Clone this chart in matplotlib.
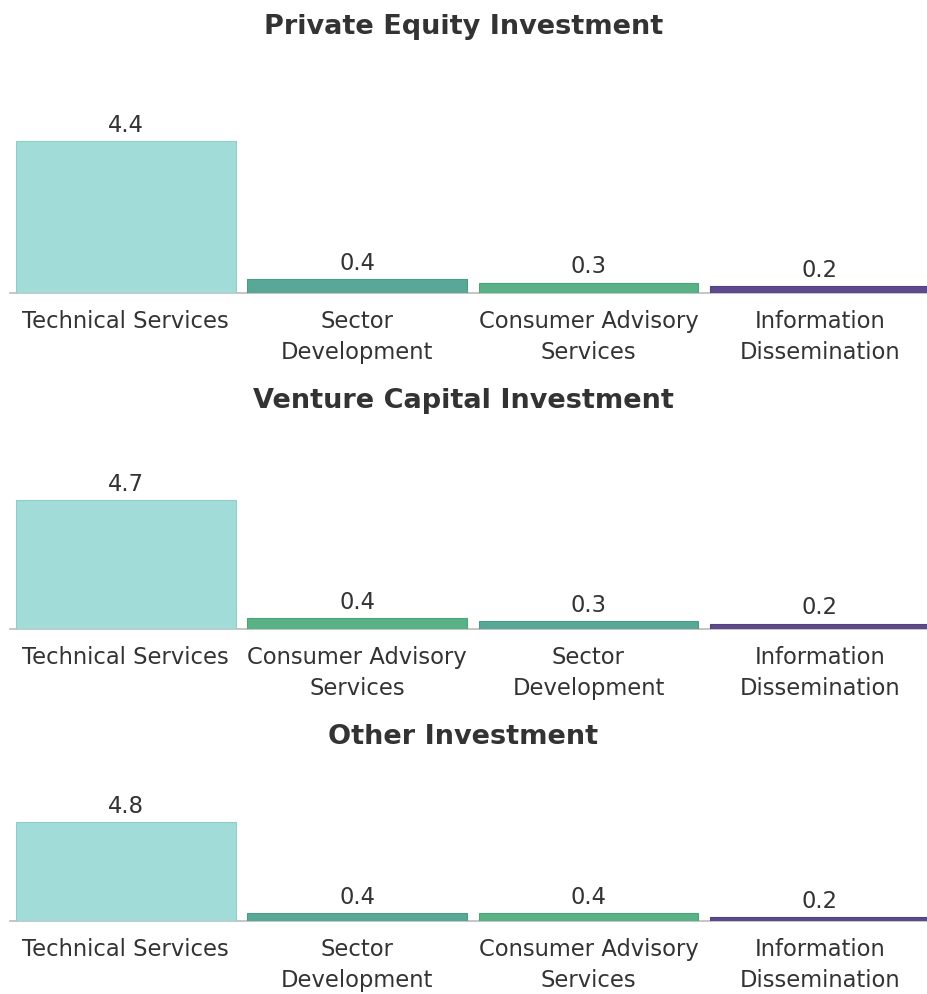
import matplotlib
matplotlib.use("Agg")
import matplotlib.pyplot as plt

# Panel data: category order follows descending value within each panel
titles = ["Private Equity Investment", "Venture Capital Investment", "Other Investment"]

pe_categories = ["Technical Services", "Sector\nDevelopment", "Consumer Advisory\nServices", "Information\nDissemination"]
pe_values = [4.4, 0.4, 0.3, 0.2]

vc_categories = ["Technical Services", "Consumer Advisory\nServices", "Sector\nDevelopment", "Information\nDissemination"]
vc_values = [4.7, 0.4, 0.3, 0.2]

other_categories = ["Technical Services", "Sector\nDevelopment", "Consumer Advisory\nServices", "Information\nDissemination"]
other_values = [4.8, 0.4, 0.4, 0.2]

colors = {
    "Technical Services": "#a2dcd9",
    "Sector Development": "#58a897",
    "Consumer Advisory Services": "#59b286",
    "Information Dissemination": "#5c4a8c",
}
edge_colors = {
    "Technical Services": "#8fcdc9",
    "Sector Development": "#4f9988",
    "Consumer Advisory Services": "#4fa378",
    "Information Dissemination": "#52427e",
}

family = "DejaVu Sans"

W, H = 927, 994
fig = plt.figure(figsize=(W / 100, H / 100), dpi=100)
fig.patch.set_facecolor("white")

text_color = "#333333"
label_size = 16.3

# (title y, axes top, baseline, pixel height of tallest bar) in pixels
layout = [
    (27, 60, 293, 152),
    (401, 440, 629, 129),
    (737, 770, 921, 99),
]

panels = [
    (pe_categories, pe_values),
    (vc_categories, vc_values),
    (other_categories, other_values),
]

for (title, (cats, vals), (ty, top, base, hmax)) in zip(titles, panels, layout):
    left, right = 10, W
    ax = fig.add_axes([left / W, 1 - base / H, (right - left) / W, (base - top) / H])
    x = list(range(len(cats)))
    keys = [c.replace("\n", " ") for c in cats]
    ax.bar(x, vals, width=0.95, color=[colors[k] for k in keys],
           edgecolor=[edge_colors[k] for k in keys], linewidth=0.8)
    ymax = max(vals) * (base - top) / hmax
    ax.set_ylim(0, ymax)
    ax.set_xlim(-0.5, 3.463)
    for xi, v in zip(x, vals):
        ax.annotate(f"{v:.1f}", (xi, v), xytext=(0, 3), textcoords="offset points",
                    ha="center", va="bottom", fontsize=label_size, color=text_color,
                    family=family)
    ax.set_xticks(x)
    ax.set_xticklabels(cats, fontsize=label_size, color=text_color, family=family,
                       linespacing=1.45)
    ax.tick_params(axis="x", length=0, pad=12.5)
    ax.set_yticks([])
    for s in ["top", "right", "left"]:
        ax.spines[s].set_visible(False)
    ax.spines["bottom"].set_color("#bbbbbb")
    ax.spines["bottom"].set_linewidth(1.2)
    ax.spines["bottom"].set_zorder(0.5)
    fig.text(0.5, 1 - ty / H, title, ha="center", va="center", fontsize=19.5,
             fontweight="bold", color=text_color, family=family)

fig.savefig("out.png", dpi=100, facecolor="white")
